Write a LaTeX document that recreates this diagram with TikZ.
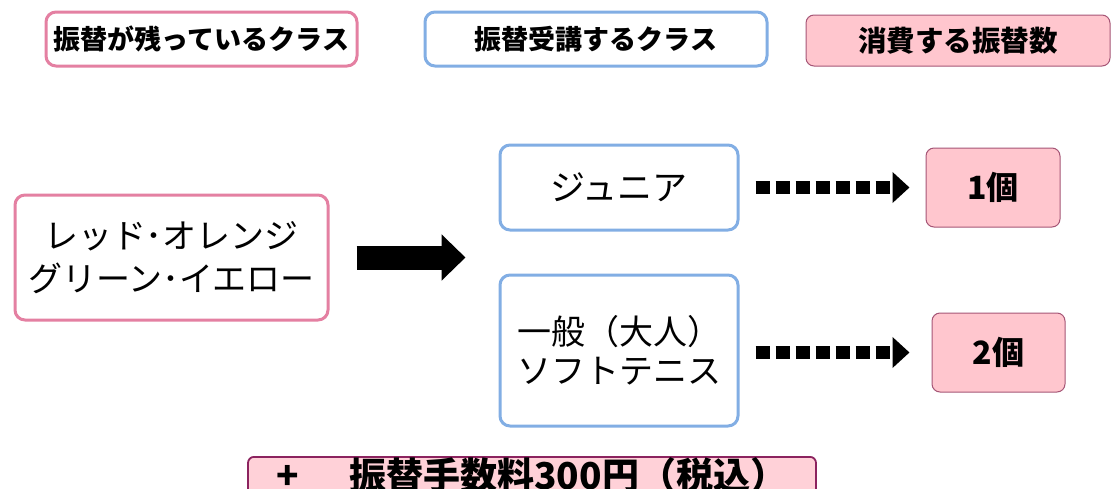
\documentclass[tikz,border=0pt]{standalone}
\usepackage{fontspec}
\newfontfamily\jp{Noto Sans CJK JP}
\usetikzlibrary{positioning}
\usetikzlibrary{arrows.meta}

\definecolor{rosa}{RGB}{228,128,162}
\definecolor{azul}{RGB}{130,174,228}
\definecolor{rosafill}{RGB}{255,198,206}
\definecolor{rosadark}{RGB}{165,85,118}
\definecolor{plum}{RGB}{140,35,95}

\begin{document}
\begin{tikzpicture}[x=1pt,y=-1pt]
\tikzset{
left/.style  = {rectangle,draw=rosa,
                line width=3pt,
                rounded corners=10pt,
                fill=white},
class/.style = {rectangle,draw=azul,
                line width=3pt,
                rounded corners=10pt,
                fill=white},
count/.style = {rectangle,draw=rosadark,
                line width=1pt,
                rounded corners=8pt,
                fill=rosafill},
fee/.style   = {rectangle,draw=plum,
                line width=1.8pt,
                rounded corners=6pt,
                fill=rosafill!80!white},
fat/.style   = {line width=24pt,
                -{Triangle[length=24pt,width=45pt]}},
dots/.style  = {line width=13pt,
                dash pattern=on 14pt off 6pt,
                -{Triangle[length=17pt,width=30pt]}}
}

\useasboundingbox (0,0) rectangle (1120,488);
\clip (0,0) rectangle (1120,488);

% legend
\node[left,minimum width=311pt,minimum height=54pt,font=\jp\bfseries\fontsize{27}{30}\selectfont]
  at (201.5,39) (keyleft) {振替が残っているクラス};
\node[class,minimum width=342pt,minimum height=54pt,font=\jp\bfseries\fontsize{27}{30}\selectfont]
  at (596,39) (keyclass) {振替受講するクラス};
\node[count,minimum width=304pt,minimum height=51pt,font=\jp\bfseries\fontsize{28.5}{30}\selectfont]
  at (958,40.5) (keycount) {消費する振替数};

% classes
\node[left,minimum width=313pt,minimum height=125pt,align=center,font=\jp\fontsize{34}{43}\selectfont]
  at (171.5,257.5) (src) {レッド･オレンジ\\グリーン･イエロー};
\node[class,minimum width=238pt,minimum height=85pt,font=\jp\fontsize{35}{38}\selectfont]
  at (619,187.5) (junior) {ジュニア};
\node[class,minimum width=238pt,minimum height=151pt,align=center,font=\jp\fontsize{34}{39}\selectfont,
  below=42pt of junior] (general) {一般（大人）\\ソフトテニス};

\node[count,minimum width=134pt,minimum height=79pt,font=\jp\bfseries\fontsize{32}{36}\selectfont]
  at (993,187.5) (one) {1個};
\node[count,minimum width=133pt,minimum height=79pt,font=\jp\bfseries\fontsize{32}{36}\selectfont]
  at (998.5,352.5) (two) {2個};

\node[fee,anchor=north,minimum width=568pt,inner ysep=1pt,text height=32pt,text depth=12pt,
  font=\jp\bfseries\fontsize{37}{40}\selectfont]
  at (532,456) (fee) {+\hspace{50pt}振替手数料300円（税込）};

% arrows
\draw[fat,shorten <=27pt,shorten >=33pt] (src.east) -- (src.east -| junior.west);
\draw[dots,shorten <=16pt,shorten >=16pt] (junior.east) -- (one.west);
\draw[dots,shorten <=16pt,shorten >=22pt] (general.east |- two.west) -- (two.west);
\end{tikzpicture}
\end{document}
